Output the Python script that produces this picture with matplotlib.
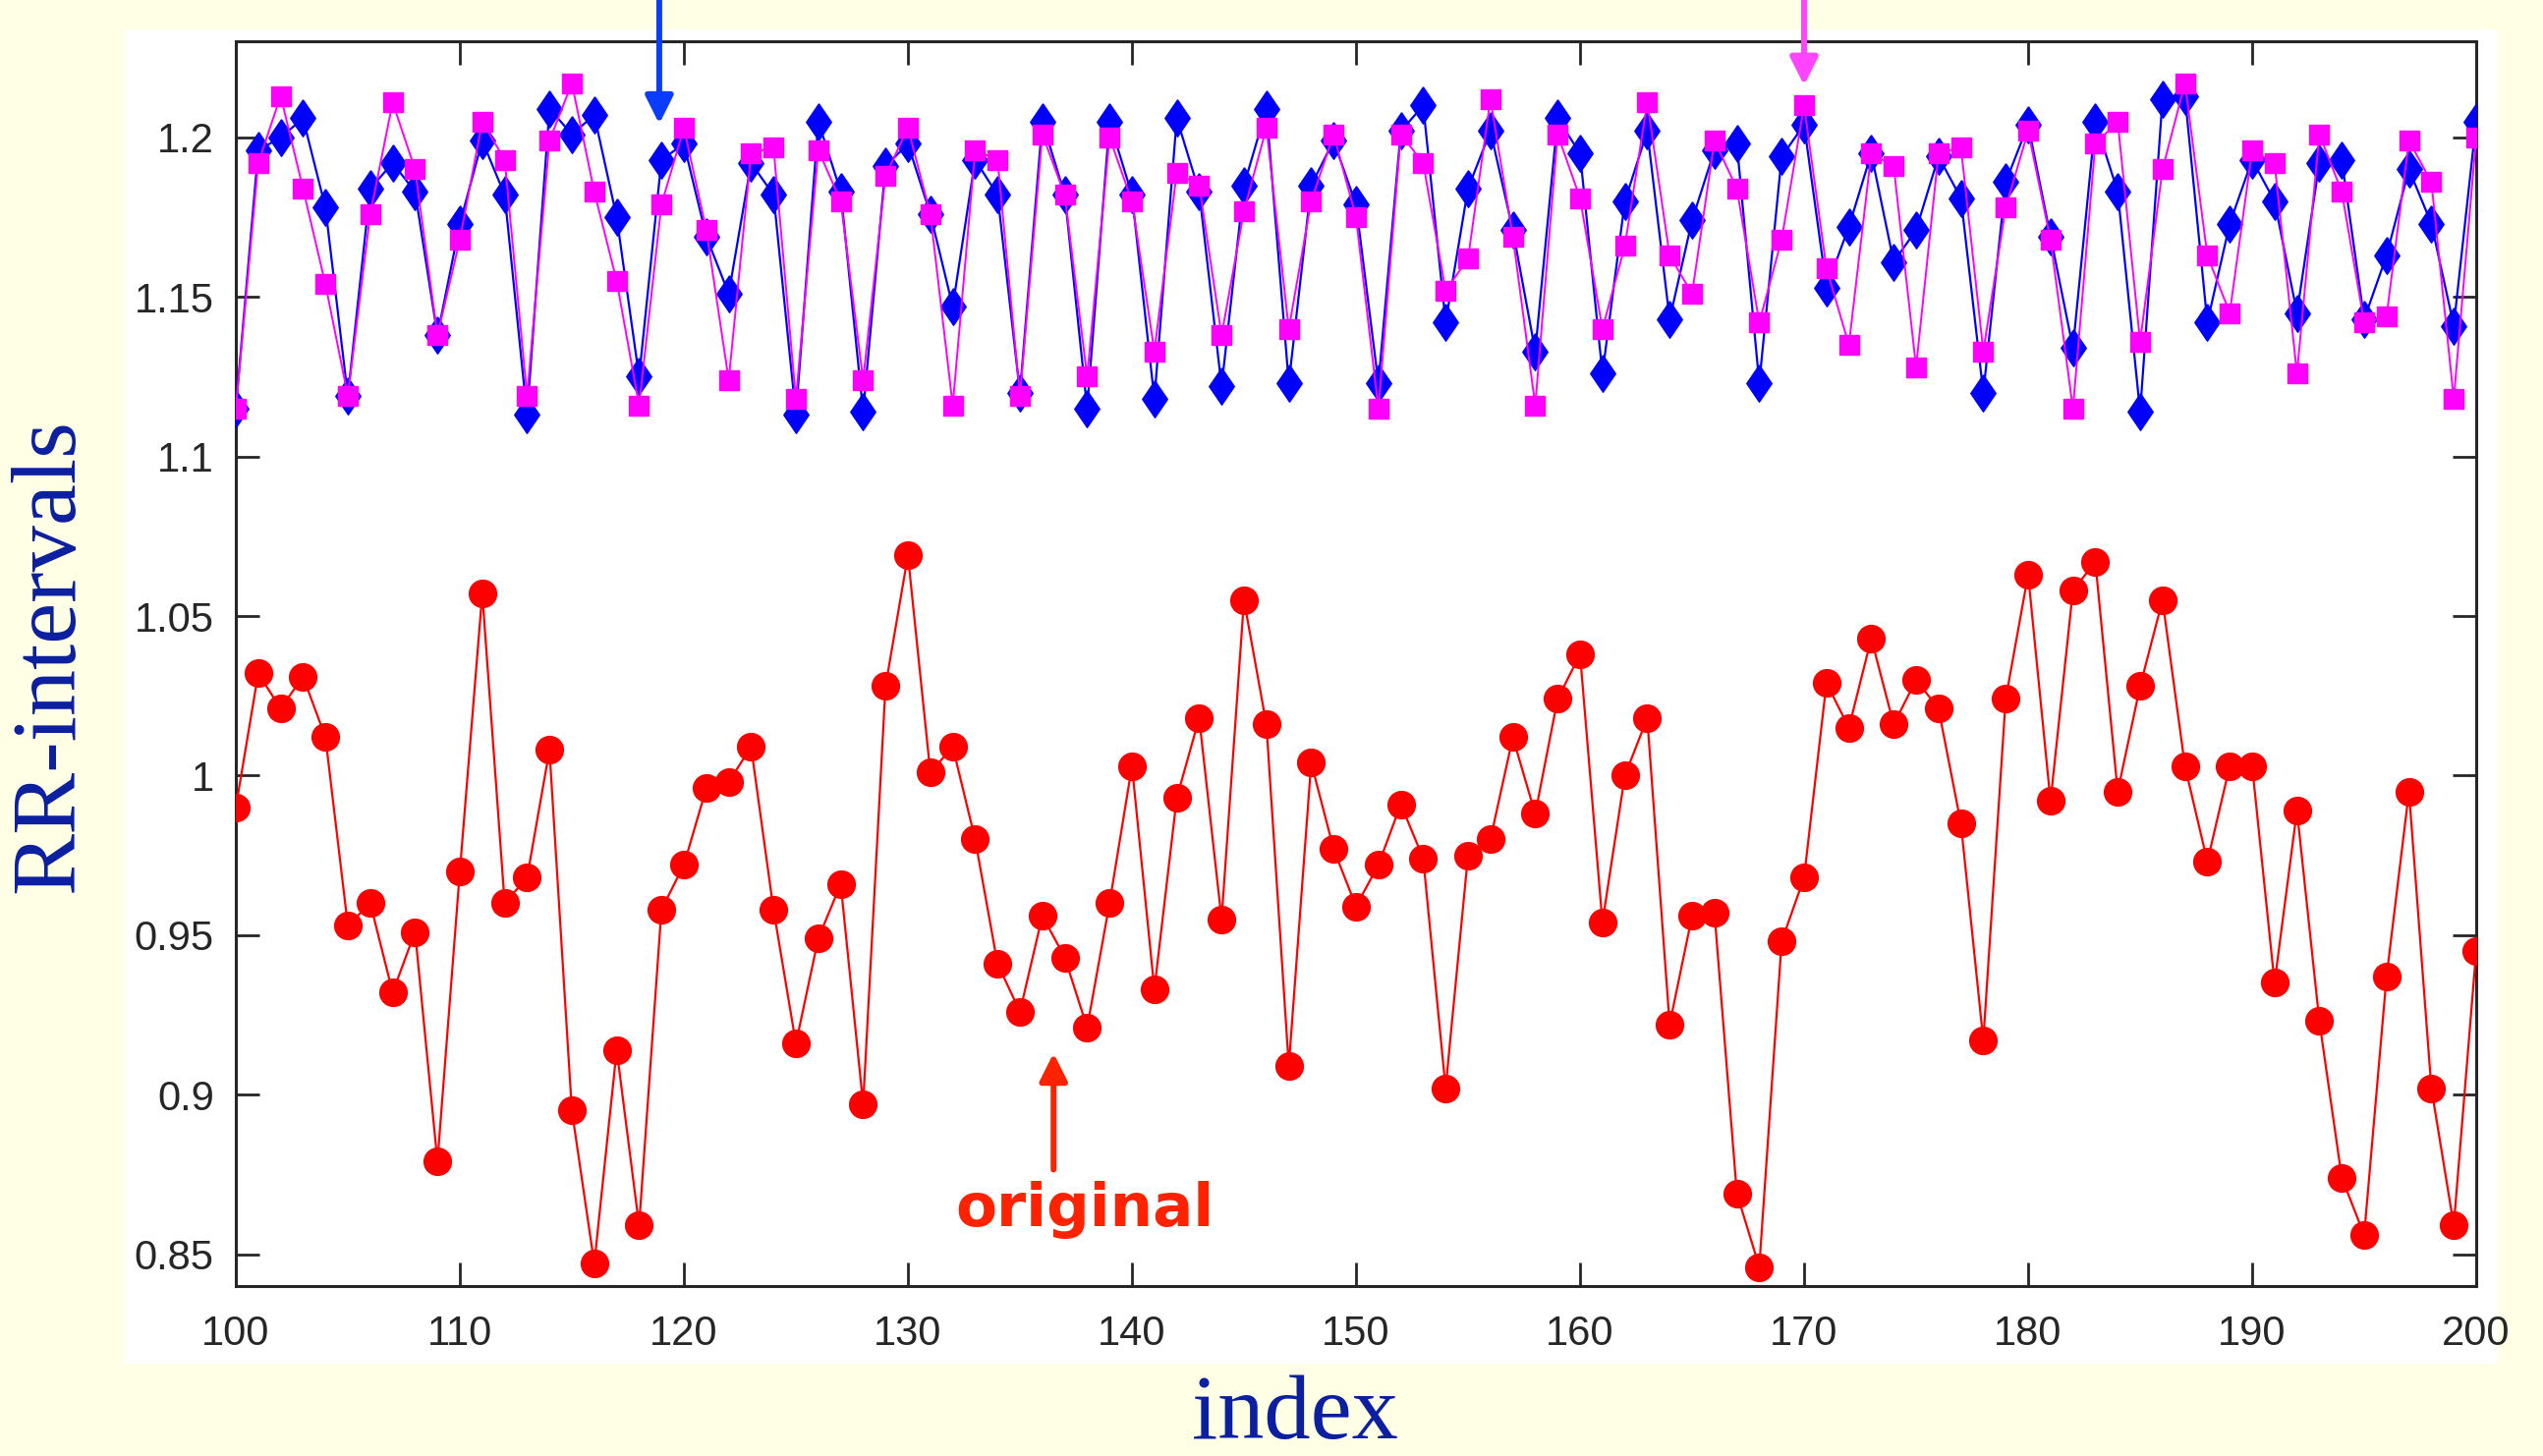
import matplotlib
matplotlib.use("Agg")
import matplotlib.pyplot as plt
from matplotlib.patches import Rectangle
import numpy as np

# ---------------- data ----------------
index = list(range(100, 201))

original = [0.990, 1.032, 1.021, 1.031, 1.012, 0.953, 0.960, 0.932, 0.951, 0.879,
            0.970, 1.057, 0.960, 0.968, 1.008, 0.895, 0.847, 0.914, 0.859, 0.958,
            0.972, 0.996, 0.998, 1.009, 0.958, 0.916, 0.949, 0.966, 0.897, 1.028,
            1.069, 1.001, 1.009, 0.980, 0.941, 0.926, 0.956, 0.943, 0.921, 0.960,
            1.003, 0.933, 0.993, 1.018, 0.955, 1.055, 1.016, 0.909, 1.004, 0.977,
            0.959, 0.972, 0.991, 0.974, 0.902, 0.975, 0.980, 1.012, 0.988, 1.024,
            1.038, 0.954, 1.000, 1.018, 0.922, 0.956, 0.957, 0.869, 0.846, 0.948,
            0.968, 1.029, 1.015, 1.043, 1.016, 1.030, 1.021, 0.985, 0.917, 1.024,
            1.063, 0.992, 1.058, 1.067, 0.995, 1.028, 1.055, 1.003, 0.973, 1.003,
            1.003, 0.935, 0.989, 0.923, 0.874, 0.856, 0.937, 0.995, 0.902, 0.859,
            0.945]

blue_series = [1.115, 1.196, 1.200, 1.206, 1.178, 1.119, 1.184, 1.192, 1.183, 1.138,
               1.173, 1.199, 1.182, 1.113, 1.209, 1.201, 1.207, 1.175, 1.125, 1.193,
               1.198, 1.169, 1.151, 1.192, 1.182, 1.113, 1.205, 1.183, 1.114, 1.191,
               1.198, 1.176, 1.147, 1.193, 1.182, 1.120, 1.205, 1.182, 1.115, 1.205,
               1.182, 1.118, 1.206, 1.183, 1.122, 1.185, 1.209, 1.123, 1.185, 1.199,
               1.179, 1.123, 1.202, 1.210, 1.142, 1.184, 1.202, 1.171, 1.133, 1.206,
               1.195, 1.126, 1.180, 1.202, 1.143, 1.174, 1.196, 1.198, 1.123, 1.194,
               1.204, 1.153, 1.172, 1.195, 1.161, 1.171, 1.194, 1.181, 1.120, 1.186,
               1.204, 1.169, 1.134, 1.205, 1.183, 1.114, 1.212, 1.213, 1.142, 1.173,
               1.193, 1.180, 1.145, 1.192, 1.193, 1.143, 1.163, 1.190, 1.173, 1.141,
               1.205]

magenta_series = [1.115, 1.192, 1.213, 1.184, 1.154, 1.119, 1.176, 1.211, 1.190, 1.138,
                  1.168, 1.205, 1.193, 1.119, 1.199, 1.217, 1.183, 1.155, 1.116, 1.179,
                  1.203, 1.171, 1.124, 1.195, 1.197, 1.118, 1.196, 1.180, 1.124, 1.188,
                  1.203, 1.176, 1.116, 1.196, 1.193, 1.119, 1.201, 1.182, 1.125, 1.200,
                  1.180, 1.133, 1.189, 1.185, 1.138, 1.177, 1.203, 1.140, 1.180, 1.201,
                  1.175, 1.115, 1.201, 1.192, 1.152, 1.162, 1.212, 1.169, 1.116, 1.201,
                  1.181, 1.140, 1.166, 1.211, 1.163, 1.151, 1.199, 1.184, 1.142, 1.168,
                  1.210, 1.159, 1.135, 1.195, 1.191, 1.128, 1.195, 1.197, 1.133, 1.178,
                  1.202, 1.168, 1.115, 1.198, 1.205, 1.136, 1.190, 1.217, 1.163, 1.145,
                  1.196, 1.192, 1.126, 1.201, 1.183, 1.142, 1.144, 1.199, 1.186, 1.118,
                  1.200]

xticks = [100, 110, 120, 130, 140, 150, 160, 170, 180, 190, 200]
yticks = [0.85, 0.9, 0.95, 1.0, 1.05, 1.1, 1.15, 1.2]
ytick_labels = ["0.85", "0.9", "0.95", "1", "1.05", "1.1", "1.15", "1.2"]

# ---------------- figure ----------------
W, H = 2588, 1482
fig = plt.figure(figsize=(W / 100, H / 100), dpi=100, facecolor="#FFFFE6")

# white panel behind axes
fig.add_artist(Rectangle((127 / W, 1 - 1388 / H), (2542 - 127) / W, (1388 - 30) / H,
                         transform=fig.transFigure, facecolor="white",
                         edgecolor="none", zorder=0))

ax = fig.add_axes([240 / W, 1 - 1309 / H, (2520 - 240) / W, (1309 - 42.5) / H])
ax.set_facecolor("white")

diamond = [(0, 1), (0.68, 0), (0, -1), (-0.68, 0), (0, 1)]

ax.plot(index, original, "-", color="#FF0000", lw=1.6, marker="o", ms=20,
        mfc="#FF0000", mec="#FF0000", mew=1, zorder=3)
ax.plot(index, blue_series, "-", color="#0000FF", lw=1.6, marker=diamond, ms=27,
        mfc="#0000FF", mec="#0000FF", mew=1, zorder=3)
ax.plot(index, magenta_series, "-", color="#FF00FF", lw=1.4, marker="s", ms=14,
        mfc="#FF00FF", mec="#FF00FF", mew=1, zorder=4)

ax.set_xlim(100, 200)
ax.set_ylim(0.84, 1.23)
ax.set_xticks(xticks)
ax.set_yticks(yticks)
ax.set_yticklabels(ytick_labels)

for sp in ax.spines.values():
    sp.set_color("#262626")
    sp.set_linewidth(2.2)

ax.tick_params(axis="both", direction="in", length=17, width=2, color="#262626",
               top=True, right=True, labelcolor="#262626")
ax.tick_params(axis="x", pad=21)
ax.tick_params(axis="y", pad=16)
for lab in ax.get_xticklabels() + ax.get_yticklabels():
    lab.set_fontfamily("Liberation Sans")
    lab.set_fontsize(30)

# axis labels (serif, dark blue)
label_color = "#0B1FA0"
fig.text(52 / W, 1 - 668 / H, "RR-intervals", rotation=90, ha="center", va="center",
         fontsize=68, family="Liberation Serif", color=label_color)
fig.text(1318 / W, 1 - 1464 / H, "index", ha="center", va="baseline",
         fontsize=68, family="Liberation Serif", color=label_color)

# arrows
def arrow(x, y_tip, y_tail, color, coords):
    ax.annotate("", xy=(x, y_tip), xycoords=coords, xytext=(x, y_tail),
                textcoords=coords,
                arrowprops=dict(arrowstyle="-|>,head_length=1.0,head_width=0.5",
                                lw=4.3, color=color, mutation_scale=17,
                                shrinkA=0, shrinkB=0),
                annotation_clip=False, zorder=6)

arrow(118.9, 0.934, 1.04, "#0A3CFF", ("data", "axes fraction"))
arrow(170.0, 0.965, 1.04, "#FF44FF", ("data", "axes fraction"))
arrow(136.5, 0.913, 0.8765, "#FF2200", "data")

ax.text(137.9, 0.8587, "original", ha="center", va="baseline", fontsize=44,
        fontweight="bold", family="DejaVu Sans", color="#FF2200", zorder=6)

fig.savefig("out.png", dpi=100, facecolor=fig.get_facecolor())
